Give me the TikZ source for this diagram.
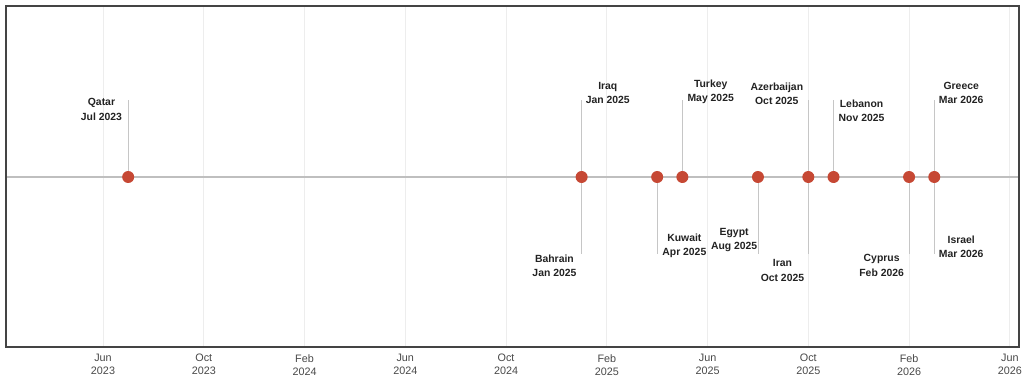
\documentclass[tikz,border=0pt]{standalone}
\usepackage{fontspec}
\setmainfont{Liberation Sans}
\usetikzlibrary{positioning}

\definecolor{dotred}{RGB}{198,72,52}
\definecolor{framegray}{RGB}{68,68,68}
\definecolor{textdark}{RGB}{34,34,34}
\definecolor{axisgray}{RGB}{72,72,72}

\begin{document}
\begin{tikzpicture}[
                    x=25.19pt, y=1pt,
                    event/.style={circle,fill=dotred,inner sep=0pt,minimum size=12pt},
                    stem/.style={draw=gray!45,line width=0.8pt},
                    tag/.style={font=\bfseries\fontsize{10.4}{14.5}\selectfont,align=center,text=textdark,inner sep=2pt},
                    ticklabel/.style={font=\fontsize{10.8}{13}\selectfont,align=center,text=axisgray,inner sep=0pt}
                ]
                \useasboundingbox (-4.089,177) rectangle (36.562,-208);

                % grid and axis labels (month 0 = Jun 2023)
                \foreach \m/\lab in {0/Jun\\2023,4/Oct\\2023,8/Feb\\2024,12/Jun\\2024,
                                     16/Oct\\2024,20/Feb\\2025,24/Jun\\2025,28/Oct\\2025,
                                     32/Feb\\2026,36/Jun\\2026}
                {
                    \draw[gray!14,line width=0.8pt] (\m,-170) -- (\m,171);
                    \node[ticklabel,anchor=north] (tick\m) at (\m,-177) {\lab};
                }

                \coordinate (lineL) at (-3.851,0);
                \coordinate (lineR) at (36.36,0);
                \draw[gray!50,line width=2.5pt] (lineL) -- (lineR);
                \draw[framegray,line width=1.5pt] (-3.851,-170) rectangle (36.36,171);

                % stem ends
                \coordinate (qatartop)  at (1,77);
                \coordinate (iraqtop)   at (19,77);
                \coordinate (bahrainbot) at (19,-77);
                \coordinate (kuwaitbot) at (22,-77);
                \coordinate (turkeytop) at (23,77);
                \coordinate (egyptbot)  at (26,-77);
                \coordinate (azertop)   at (28,77);
                \coordinate (iranbot)   at (28,-77);
                \coordinate (lebanontop) at (29,77);
                \coordinate (cyprusbot) at (32,-77);
                \coordinate (greecetop) at (33,77);
                \coordinate (israelbot) at (33,-77);

                % events
                \node[event] (qatar)   at (1,0) {};
                \node[event] (jan25)   at (19,0) {};
                \node[event] (kuwait)  at (22,0) {};
                \node[event] (turkey)  at (23,0) {};
                \node[event] (egypt)   at (26,0) {};
                \node[event] (oct25)   at (28,0) {};
                \node[event] (lebanon) at (29,0) {};
                \node[event] (cyprus)  at (32,0) {};
                \node[event] (mar26)   at (33,0) {};

                % stems
                \draw[stem] (qatar) -- (qatartop);
                \draw[stem] (jan25) -- (iraqtop);
                \draw[stem] (jan25) -- (bahrainbot);
                \draw[stem] (kuwait) -- (kuwaitbot);
                \draw[stem] (turkey) -- (turkeytop);
                \draw[stem] (egypt) -- (egyptbot);
                \draw[stem] (oct25) -- (azertop);
                \draw[stem] (oct25) -- (iranbot);
                \draw[stem] (lebanon) -- (lebanontop);
                \draw[stem] (cyprus) -- (cyprusbot);
                \draw[stem] (mar26) -- (greecetop);
                \draw[stem] (mar26) -- (israelbot);

                % labels
                \node[tag, below left=-3.7pt and 4pt of qatartop]   (qatarlab)   {Qatar\\Jul 2023};
                \node[tag, above right=-6pt and 2pt of iraqtop]     (iraqlab)    {Iraq\\Jan 2025};
                \node[tag, below left=-1.7pt and 3pt of bahrainbot] (bahrainlab) {Bahrain\\Jan 2025};
                \node[tag, above right=-6pt and 3pt of kuwaitbot]   (kuwaitlab)  {Kuwait\\Apr 2025};
                \node[tag, above right=-6pt and 3pt of turkeytop]   (turkeylab)  {Turkey\\May 2025};
                \node[tag, above left=0pt and -1.5pt of egyptbot]   (egyptlab)   {Egypt\\Aug 2025};
                \node[tag, above left=-7pt and 3pt of azertop]      (azerlab)    {Azerbaijan\\Oct 2025};
                \node[tag, below left=3.3pt and 2pt of iranbot]     (iranlab)    {Iran\\Oct 2025};
                \node[tag, below right=-2.7pt and 3pt of lebanontop] (lebanonlab) {Lebanon\\Nov 2025};
                \node[tag, below left=-1.7pt and 3pt of cyprusbot]  (cypruslab)  {Cyprus\\Feb 2026};
                \node[tag, above right=-6pt and 2.5pt of greecetop] (greecelab)  {Greece\\Mar 2026};
                \node[tag, above right=-6pt and 2.5pt of israelbot] (israellab)  {Israel\\Mar 2026};
            \end{tikzpicture}
\end{document}
